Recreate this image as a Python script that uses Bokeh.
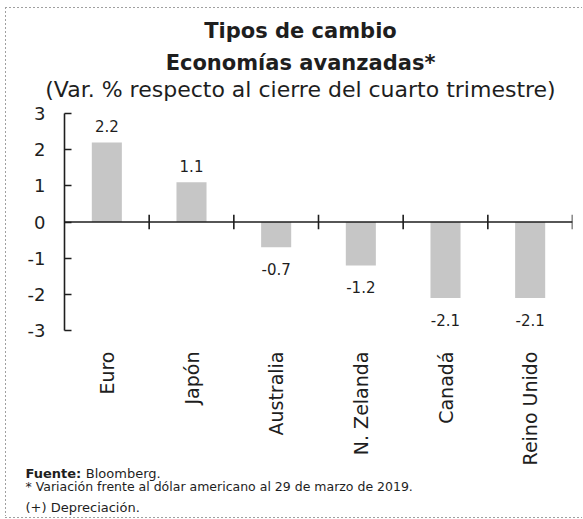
import math
from bokeh.plotting import figure
from bokeh.models import FactorRange, Range1d, FixedTicker, Span, Title, ColumnDataSource
from bokeh.core.properties import value
from bokeh.embed import file_html
from bokeh.resources import INLINE

categories = ["Euro", "Japón", "Australia", "N. Zelanda", "Canadá", "Reino Unido"]
values = [2.2, 1.1, -0.7, -1.2, -2.1, -2.1]
value_labels = ["2.2", "1.1", "-0.7", "-1.2", "-2.1", "-2.1"]
y_ticks = [-3, -2, -1, 0, 1, 2, 3]
y_tick_labels = ["-3", "-2", "-1", "0", "1", "2", "3"]

title1 = "Tipos de cambio"
title2 = "Economías avanzadas*"
subtitle = "(Var. % respecto al cierre del cuarto trimestre)"
source_bold = "Fuente:"
source_text = "Bloomberg."
note1 = "* Variación frente al dólar americano al 29 de marzo de 2019."
note2 = "(+) Depreciación."

FONT = "DejaVu Sans"
INK = "#1e1e1e"
W, H = 582, 518
FRAME_LEFT = 64
TITLE_CENTER = 300
NOTE_LEFT = 25


def text_width(text, size, bold):
    try:
        from PIL import ImageFont
        f = ImageFont.truetype("DejaVuSans-Bold.ttf" if bold else "DejaVuSans.ttf", size)
        return f.getlength(text)
    except Exception:
        return len(text) * size * (0.68 if bold else 0.56)


def centered_offset(text, size, bold):
    return TITLE_CENTER - text_width(text, size, bold) / 2 - FRAME_LEFT


p = figure(x_range=FactorRange(*categories), y_range=Range1d(-3, 3),
           width=W, height=H, output_backend="svg", toolbar_location=None,
           min_border_left=FRAME_LEFT, min_border_right=10, min_border_top=113, min_border_bottom=188)
p.outline_line_color = None
p.background_fill_color = None
p.border_fill_color = None
p.xgrid.grid_line_color = None
p.ygrid.grid_line_color = None
dots_h = "repeating-linear-gradient(90deg, #a0a0a0 0 2px, transparent 2px 4px)"
dots_v = "repeating-linear-gradient(180deg, #a0a0a0 0 2px, transparent 2px 4px)"
p.styles = {
    "background-image": f"{dots_h}, {dots_h}, {dots_v}",
    "background-size": f"{W - 5}px 1px, {W - 5}px 1px, 1px {H - 9}px",
    "background-position": f"5px 7px, 5px {H - 1}px, 5px 7px",
    "background-repeat": "no-repeat",
}

# titles above (first added sits closest to the plot)
p.add_layout(Title(text=" ", align="left", text_font=FONT, text_font_size="9px", standoff=0), "above")
p.add_layout(Title(text=subtitle, align="left", offset=centered_offset(subtitle, 22, False),
                   text_font=FONT, text_font_size="22px", text_font_style="normal",
                   text_color=INK, standoff=0), "above")
p.add_layout(Title(text=title2, align="left", offset=centered_offset(title2, 21, True),
                   text_font=FONT, text_font_size="21px", text_font_style="bold",
                   text_color=INK, standoff=0), "above")
p.add_layout(Title(text=title1, align="left", offset=centered_offset(title1, 21, True),
                   text_font=FONT, text_font_size="21px", text_font_style="bold",
                   text_color=INK, standoff=12), "above")

# bars
src = ColumnDataSource(dict(x=categories, top=values, lab=value_labels,
                            off=[-16 if v >= 0 else 22 for v in values]))
p.vbar(x="x", top="top", bottom=0, width=0.355, source=src,
       fill_color="#c6c6c6", line_color=None)
p.text(x="x", y="top", text="lab", y_offset="off", source=src,
       text_align="center", text_baseline="middle",
       text_font=value(FONT), text_font_size="15px", text_color=INK)

# zero line with category boundary ticks
p.add_layout(Span(location=0, dimension="width", line_color=INK, line_width=1.6))
bx = [(c, 0.5) for c in categories]
p.segment(x0=bx, y0=[-0.2] * len(bx), x1=bx, y1=[0.2] * len(bx),
          line_color=INK, line_width=1.6)

# y axis
ya = p.yaxis[0]
ya.ticker = FixedTicker(ticks=y_ticks)
ya.major_label_overrides = {t: s for t, s in zip(y_ticks, y_tick_labels)}
ya.major_tick_in = 7
ya.major_tick_out = 0
ya.minor_tick_line_color = None
ya.axis_line_width = 1.6
ya.major_tick_line_width = 1.6
ya.axis_line_color = INK
ya.major_tick_line_color = INK
ya.major_label_standoff = 19
ya.major_label_text_font = FONT
ya.major_label_text_font_size = "18px"
ya.major_label_text_color = INK

# x axis (category labels only)
xa = p.xaxis[0]
xa.axis_line_color = None
xa.major_tick_line_color = None
xa.major_label_orientation = math.pi / 2
xa.major_label_standoff = 15
xa.major_label_text_font = FONT
xa.major_label_text_font_size = "19px"
xa.major_label_text_color = INK

# footnotes below (first added sits closest to the plot).
# "Fuente:" (bold) and "Bloomberg." share the first line: both panels get a
# standoff below minus the text height, so they take no room and overlap.
S_LINE1 = -24
p.add_layout(Title(text=source_bold, align="left", offset=NOTE_LEFT - FRAME_LEFT, text_font=FONT,
                   text_font_size="13px", text_font_style="bold", text_color=INK,
                   standoff=S_LINE1), "below")
p.add_layout(Title(text=source_text, align="left",
                   offset=NOTE_LEFT - FRAME_LEFT + text_width(source_bold + " ", 13, True),
                   text_font=FONT, text_font_size="13px", text_font_style="normal", text_color=INK,
                   standoff=S_LINE1), "below")
p.add_layout(Title(text=note1, align="left", offset=NOTE_LEFT - FRAME_LEFT, text_font=FONT,
                   text_font_size="12.5px", text_font_style="normal", text_color=INK,
                   standoff=17), "below")
p.add_layout(Title(text=note2, align="left", offset=NOTE_LEFT - FRAME_LEFT, text_font=FONT,
                   text_font_size="13px", text_font_style="normal", text_color=INK,
                   standoff=-10), "below")

open("out.html", "w").write(file_html(p, INLINE))
